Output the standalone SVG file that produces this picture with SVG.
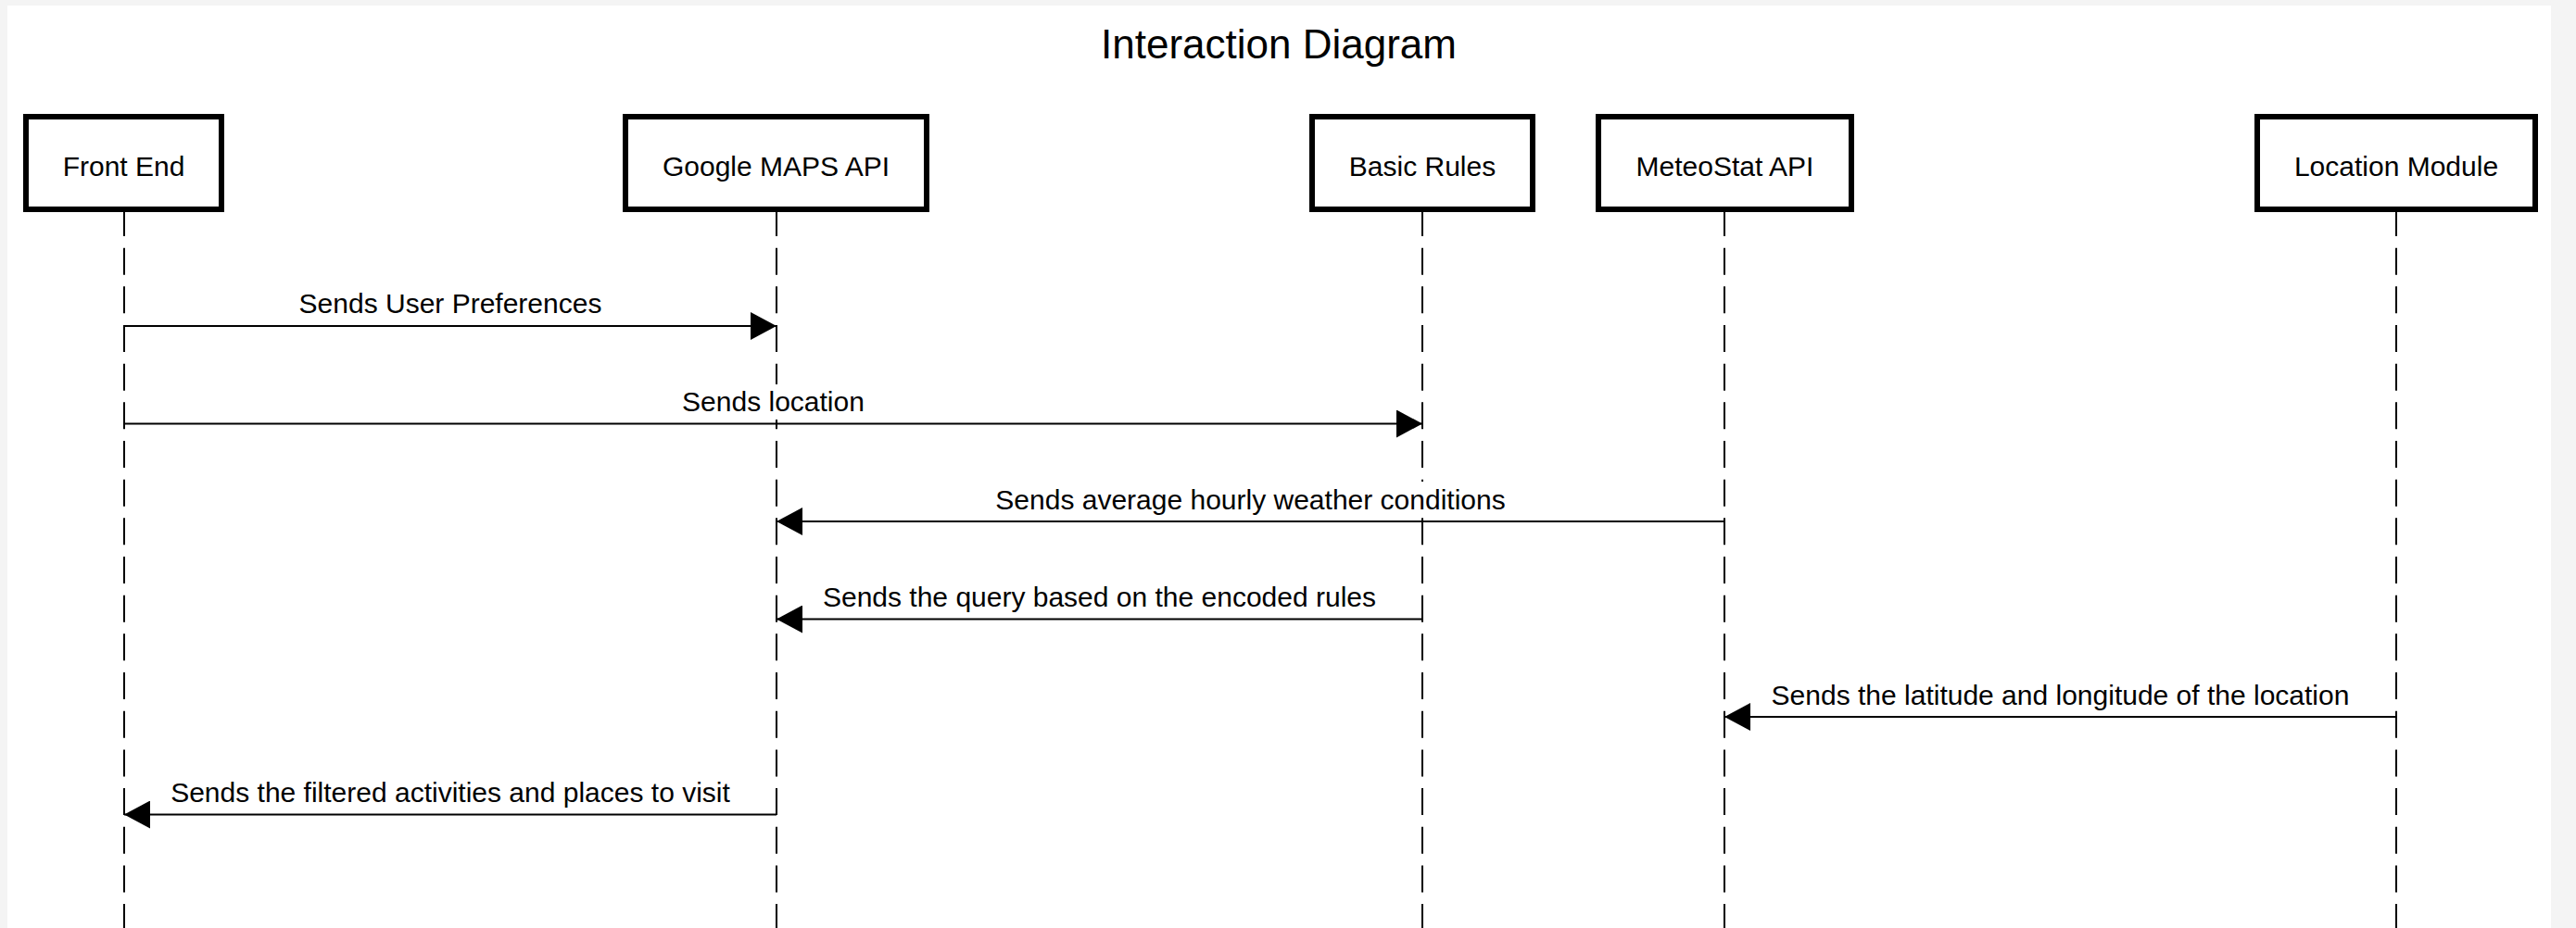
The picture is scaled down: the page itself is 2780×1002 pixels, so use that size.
<svg xmlns="http://www.w3.org/2000/svg" width="2780" height="1002" viewBox="0 0 2780 1002">
  <defs>
    <style>
      .box { fill: #ffffff; stroke: #000000; stroke-width: 6; }
      .lbl { font-family: "Liberation Sans", Arial, Helvetica, sans-serif; font-size: 30px; fill: #000000; text-anchor: middle; }
      .title { font-family: "Liberation Sans", Arial, Helvetica, sans-serif; font-size: 44px; fill: #000000; text-anchor: middle; }
      .life { stroke: #000000; stroke-width: 2; stroke-dasharray: 29 12.67; fill: none; }
      .msg { stroke: #000000; stroke-width: 2; fill: none; marker-end: url(#arrow); }
      .lblbg { fill: #ffffff; stroke: none; }
    </style>
    <marker id="arrow" markerUnits="userSpaceOnUse" markerWidth="28" markerHeight="30" refX="28" refY="15" orient="auto" viewBox="0 0 28 30">
      <path d="M0,0 L28,15 L0,30 Z" fill="#000000"/>
    </marker>
  </defs>

  <rect x="0" y="0" width="2780" height="1002" fill="#f4f4f4"/>
  <rect x="8" y="6" width="2745" height="1000" fill="#ffffff"/>

  <text class="title" x="1380" y="63">Interaction Diagram</text>

  <g id="lifelines">
    <line class="life" x1="134" y1="226" x2="134" y2="1002"/>
    <line class="life" x1="838" y1="226" x2="838" y2="1002"/>
    <line class="life" x1="1535" y1="226" x2="1535" y2="1002"/>
    <line class="life" x1="1861" y1="226" x2="1861" y2="1002"/>
    <line class="life" x1="2586" y1="226" x2="2586" y2="1002"/>
  </g>

  <g id="node-front-end">
    <rect class="box" x="28" y="126" width="211" height="100"/>
    <text class="lbl" x="133.5" y="190">Front End</text>
  </g>
  <g id="node-google-maps-api">
    <rect class="box" x="675" y="126" width="325" height="100"/>
    <text class="lbl" x="837.5" y="190">Google MAPS API</text>
  </g>
  <g id="node-basic-rules">
    <rect class="box" x="1416" y="126" width="238" height="100"/>
    <text class="lbl" x="1535" y="190">Basic Rules</text>
  </g>
  <g id="node-meteostat-api">
    <rect class="box" x="1725" y="126" width="273" height="100"/>
    <text class="lbl" x="1861.5" y="190">MeteoStat API</text>
  </g>
  <g id="node-location-module">
    <rect class="box" x="2436" y="126" width="300" height="100"/>
    <text class="lbl" x="2586" y="190">Location Module</text>
  </g>

  <g id="connectors">
    <line class="msg" x1="134" y1="352" x2="838" y2="352"/>
    <rect class="lblbg" x="319" y="309" width="334" height="38"/>
    <text class="lbl" x="486" y="338">Sends User Preferences</text>

    <line class="msg" x1="134" y1="457.5" x2="1535" y2="457.5"/>
    <rect class="lblbg" x="732" y="415" width="205" height="38"/>
    <text class="lbl" x="834.5" y="444">Sends location</text>

    <line class="msg" x1="1861" y1="563" x2="838" y2="563"/>
    <rect class="lblbg" x="1070" y="520" width="559" height="38"/>
    <text class="lbl" x="1349.5" y="549.5">Sends average hourly weather conditions</text>

    <line class="msg" x1="1535" y1="668.5" x2="838" y2="668.5"/>
    <rect class="lblbg" x="885" y="626" width="603" height="38"/>
    <text class="lbl" x="1186.5" y="655">Sends the query based on the encoded rules</text>

    <line class="msg" x1="2586" y1="774" x2="1861" y2="774"/>
    <rect class="lblbg" x="1907" y="731" width="633" height="38"/>
    <text class="lbl" x="2223.5" y="760.5">Sends the latitude and longitude of the location</text>

    <line class="msg" x1="838" y1="879.5" x2="134" y2="879.5"/>
    <rect class="lblbg" x="181" y="837" width="610" height="38"/>
    <text class="lbl" x="486" y="866">Sends the filtered activities and places to visit</text>
  </g>
</svg>
